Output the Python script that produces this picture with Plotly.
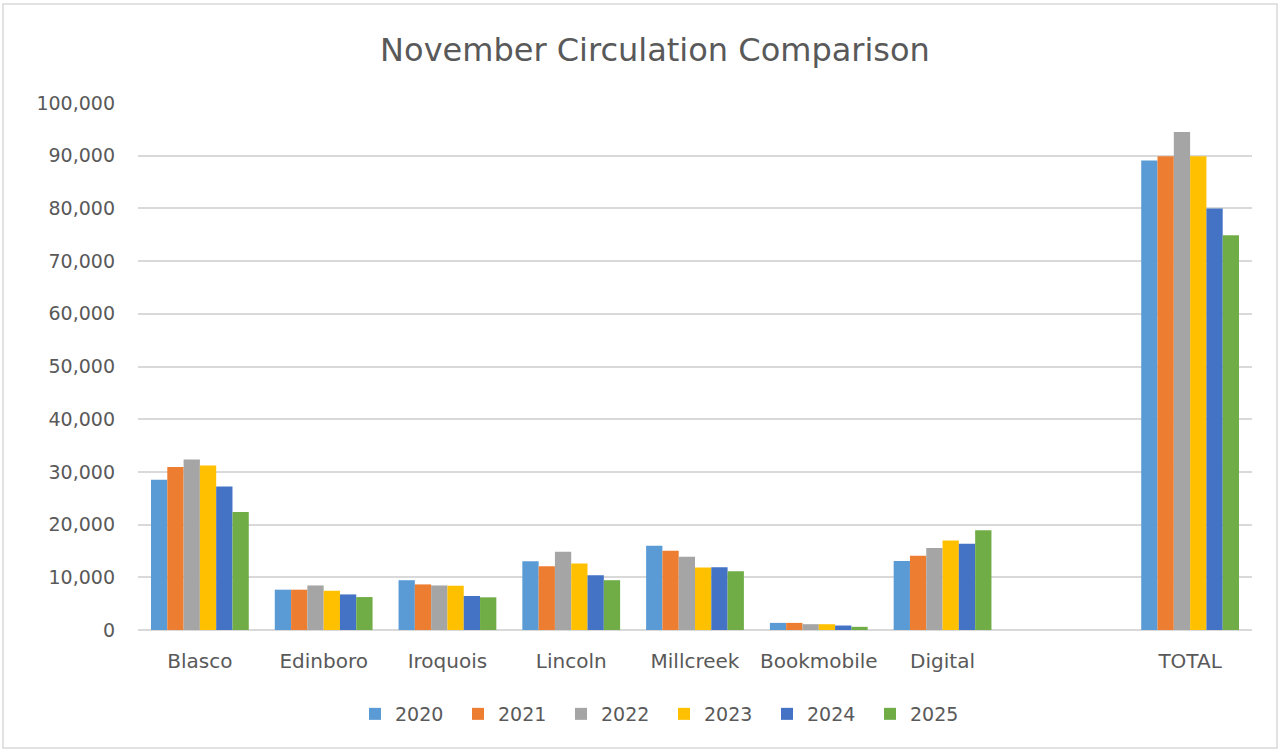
import plotly.graph_objects as go

categories = ["Blasco", "Edinboro", "Iroquois", "Lincoln", "Millcreek", "Bookmobile", "Digital", " ", "TOTAL"]
years = ["2020", "2021", "2022", "2023", "2024", "2025"]

v2020 = [28500, 7650, 9450, 13050, 16000, 1350, 13100, None, 89100]
v2021 = [30950, 7650, 8650, 12100, 15050, 1350, 14100, None, 89900]
v2022 = [32350, 8450, 8450, 14850, 13900, 1100, 15550, None, 94500]
v2023 = [31200, 7450, 8400, 12600, 11850, 1100, 17000, None, 89900]
v2024 = [27250, 6750, 6450, 10400, 11900, 850, 16350, None, 80000]
v2025 = [22400, 6250, 6200, 9450, 11150, 600, 18950, None, 74900]

series = [v2020, v2021, v2022, v2023, v2024, v2025]
colors = ["#5B9BD5", "#ED7D31", "#A5A5A5", "#FFC000", "#4472C4", "#70AD47"]

FONT = "DejaVu Sans"
TXT = "#595959"

fig = go.Figure()
for name, vals, col in zip(years, series, colors):
    fig.add_trace(go.Bar(
        name=name, x=categories, y=vals,
        marker=dict(color=col, line=dict(width=0)),
    ))

L, R, T, B = 138, 28, 103, 120
W, H = 1280, 750
pw, ph = W - L - R, H - T - B

def px2x(px):
    return (px - L) / pw

def px2y(py):
    return (H - B - py) / ph

fig.update_layout(
    width=W, height=H,
    margin=dict(l=L, r=R, t=T, b=B),
    paper_bgcolor="white", plot_bgcolor="white",
    barmode="group", bargap=0.21, bargroupgap=0,
    font=dict(family=FONT, color=TXT, size=19),
    title=dict(text="November Circulation Comparison", x=655 / W, xref="container", xanchor="center",
               y=1 - 50 / H, yref="container", yanchor="middle",
               font=dict(family=FONT, size=32, color=TXT)),
    xaxis=dict(type="category", categoryorder="array", categoryarray=categories,
               showgrid=False, showline=False, ticks="", ticklabelstandoff=17,
               tickfont=dict(size=20, color=TXT)),
    yaxis=dict(range=[0, 100000], tick0=0, dtick=10000, tickformat=",",
               showgrid=True, gridcolor="#D9D9D9", gridwidth=1.5,
               zeroline=True, zerolinecolor="#D9D9D9", zerolinewidth=1.5,
               showline=False, ticks="", ticklabelstandoff=22,
               tickfont=dict(size=19, color=TXT)),
    legend=dict(orientation="h", x=px2x(664), xanchor="center", y=px2y(714), yanchor="middle",
                font=dict(size=19, color=TXT), traceorder="normal", itemwidth=30,
                entrywidth=58, entrywidthmode="pixels",
                bgcolor="rgba(0,0,0,0)"),
    shapes=[dict(type="rect", xref="paper", yref="paper",
                 x0=px2x(3), x1=px2x(1277), y0=px2y(748), y1=px2y(4),
                 line=dict(color="#D9D9D9", width=1.5), layer="below")],
)

fig.write_html("out.html", config={"displayModeBar": False},
               post_script="document.body.style.margin='0';document.body.style.overflow='hidden';")
